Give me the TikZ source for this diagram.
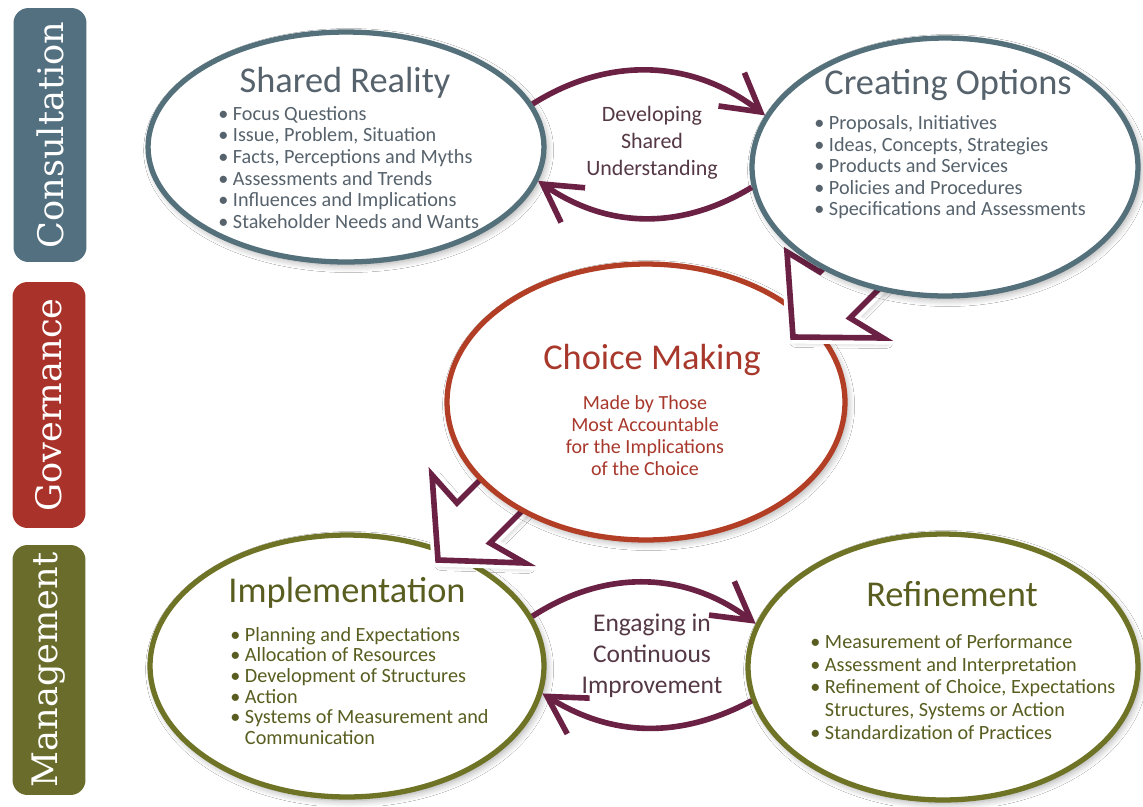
\documentclass[tikz,border=0pt]{standalone}
\usepackage{fontspec}
\setmainfont{Carlito}
\newfontfamily\slabfont{DejaVu Serif}
\usetikzlibrary{shapes.geometric,arrows.meta,shadows.blur}

\definecolor{consult}{HTML}{52707F}
\definecolor{govern}{HTML}{A9322A}
\definecolor{manage}{HTML}{6A6C2C}
\definecolor{consultline}{HTML}{54707B}
\definecolor{governline}{HTML}{B23E26}
\definecolor{manageline}{HTML}{6E7326}
\definecolor{consulttext}{HTML}{56626C}
\definecolor{governtext}{HTML}{A8382C}
\definecolor{managetext}{HTML}{595E20}
\definecolor{cyclec}{HTML}{6B2144}
\definecolor{cycletext}{HTML}{553845}

\tikzset{
  phasebox/.style={rounded corners=0.3cm, text=white, rotate=90, inner sep=0pt,
    minimum height=1.46cm, font=\slabfont\fontsize{20}{24}\selectfont},
  stagering/.style={ellipse, line width=3pt, fill=white, inner sep=0pt,
    blur shadow={shadow xshift=1.5pt, shadow yshift=-2pt, shadow blur radius=4pt,
      shadow blur steps=10, shadow opacity=35}},
  stagetitle/.style={inner sep=0pt, font=\fontsize{20.7}{24}\selectfont},
  stagelist/.style={align=left, anchor=north west, inner sep=0pt,
    font=\fontsize{11.5}{12.3}\selectfont},
  looptext/.style={align=center, inner sep=0pt, text=cycletext},
  loopline/.style={draw=cyclec, line width=3.2pt,
    -{Straight Barb[length=21pt,width=24pt]}},
  hollowarrow/.style={draw=cyclec, line width=3.2pt, fill=white, line join=miter,
    blur shadow={shadow xshift=2pt, shadow yshift=-2pt, shadow blur radius=4pt,
      shadow blur steps=10, shadow opacity=35},
    preaction={draw=white, line width=7.5pt, line join=miter}}
}

\begin{document}
\begin{tikzpicture}[x=0.02cm, y=-0.02cm]
\path[use as bounding box, fill=white] (0,0) rectangle (1143,806);

% phase labels down the left side
\node[phasebox, fill=consult, minimum width=5.08cm] (cons) at (50,135) {Consultation};
\node[phasebox, fill=govern, minimum width=4.92cm] (gov) at (49,405) {Governance};
\node[phasebox, fill=manage, minimum width=5cm] (man) at (49,670) {Management};

% stages, lowest layer first
\node[stagering, draw=manageline, minimum width=7.88cm, minimum height=5.24cm] (impl) at (347,666) {};
\node[stagering, draw=manageline, minimum width=7.8cm, minimum height=5.32cm] (refi) at (943,667) {};
\node[stagering, draw=consultline, minimum width=7.92cm, minimum height=4.6cm] (sr) at (346,147) {};

% choice -> implementation
\draw[hollowarrow, shift={(438,560)}]
  (0,0) -- (-6,-85) -- (19,-57) -- (109,-147) -- (142,-107) -- (52,-17) -- (87,3) -- cycle;
\node[stagering, draw=governline, minimum width=7.96cm, minimum height=5.52cm] (cm) at (646,402) {};

% options -> choice
\draw[hollowarrow, shift={(793,337)}]
  (0,0) -- (-6,-85) -- (27,-65) -- (107,-145) -- (137,-99) -- (57,-19) -- (90,1) -- cycle;
\node[stagering, draw=consultline, minimum width=7.72cm, minimum height=5.16cm] (co) at (945,167) {};

% texts of the stages
\node[stagetitle, text=consulttext] (srt) at (345,83) {Shared Reality};
\node[stagelist, text=consulttext] (srl) at (218,106) {%
  \textbullet~Focus Questions\\
  \textbullet~Issue, Problem, Situation\\
  \textbullet~Facts, Perceptions and Myths\\
  \textbullet~Assessments and Trends\\
  \textbullet~Influences and Implications\\
  \textbullet~Stakeholder Needs and Wants};

\node[stagetitle, text=consulttext] (cot) at (948,85) {Creating Options};
\node[stagelist, text=consulttext] (col) at (814,115) {%
  \textbullet~Proposals, Initiatives\\
  \textbullet~Ideas, Concepts, Strategies\\
  \textbullet~Products and Services\\
  \textbullet~Policies and Procedures\\
  \textbullet~Specifications and Assessments};

\node[stagetitle, text=governtext] (cmt) at (652,360) {Choice Making};
\node[align=center, inner sep=0pt, text=governtext, font=\fontsize{11.4}{12.5}\selectfont]
  (cml) at (645,436) {Made by Those\\Most Accountable\\for the Implications\\of the Choice};

\node[stagetitle, text=managetext] (implt) at (347,593) {Implementation};
\node[stagelist, text=managetext, font=\fontsize{11.5}{11.7}\selectfont] (impll) at (230,627) {%
  \textbullet~Planning and Expectations\\
  \textbullet~Allocation of Resources\\
  \textbullet~Development of Structures\\
  \textbullet~Action\\
  \textbullet~Systems of Measurement and\\
  \phantom{\textbullet~}Communication};

\node[stagetitle, text=managetext] (refit) at (952,594) {Refinement};
\node[stagelist, text=managetext, font=\fontsize{11.5}{13}\selectfont] (refil) at (810,634) {%
  \textbullet~Measurement of Performance\\
  \textbullet~Assessment and Interpretation\\
  \textbullet~Refinement of Choice, Expectations\\
  \phantom{\textbullet~}Structures, Systems or Action\\
  \textbullet~Standardization of Practices};

% the two loops
\node[looptext, font=\fontsize{12.5}{15.3}\selectfont] (dsu) at (652,143) {Developing\\Shared\\Understanding};
\draw[loopline] (sr.13) to[bend left=35] (co.164);
\draw[loopline] (co.186) to[bend left=33] (sr.-10);

\node[looptext, font=\fontsize{14.5}{17.6}\selectfont] (eci) at (652,656) {Engaging in\\Continuous\\Improvement};
\draw[loopline] (impl.15) to[bend left=35] (refi.167);
\draw[loopline] (refi.190) to[bend left=30] (impl.-8);
\end{tikzpicture}
\end{document}
